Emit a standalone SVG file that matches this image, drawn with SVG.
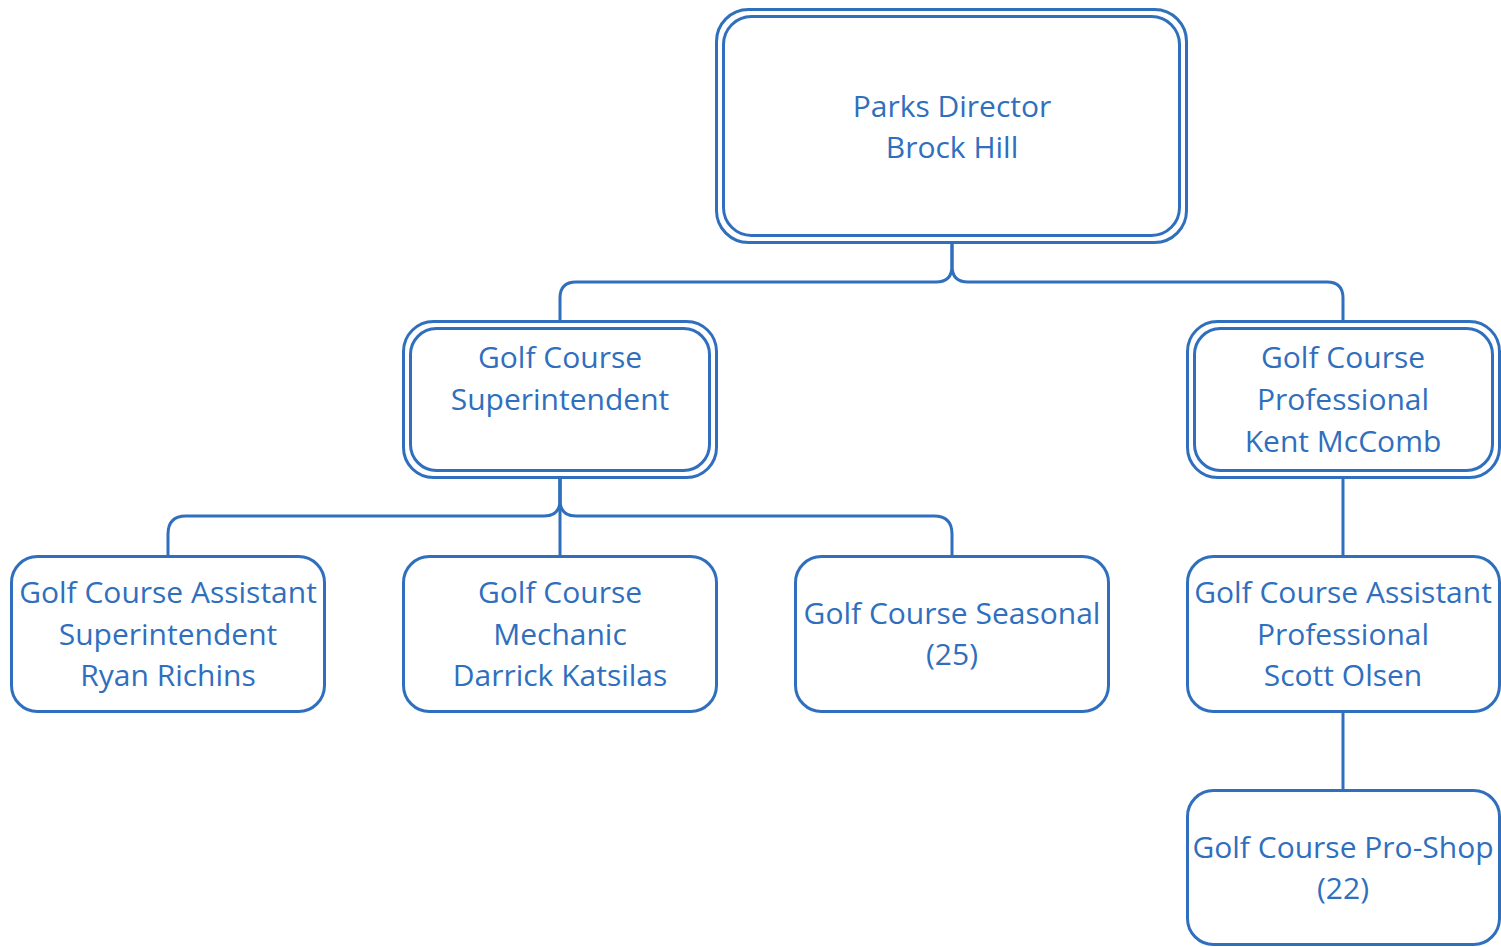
<svg xmlns="http://www.w3.org/2000/svg" width="1501" height="947" viewBox="0 0 1501 947">
  <style>
    .box { fill: #fff; stroke: #2F6FBD; stroke-width: 3; }
    .wire { fill: none; stroke: #2F6FBD; stroke-width: 3; }
    text { font-family: "Open Sans", "Noto Sans", "Liberation Sans", sans-serif; font-size: 30px; fill: #2F6FBD; text-anchor: middle; }
  </style>
  <rect width="1501" height="947" fill="#fff"/>

  <g id="connectors">
    <path class="wire" d="M952 243 V266 Q952 282 936 282 H576 Q560 282 560 298 V322"/>
    <path class="wire" d="M952 243 V266 Q952 282 968 282 H1327 Q1343 282 1343 298 V322"/>
    <path class="wire" d="M560 478 V500 Q560 516 544 516 H186 Q168 516 168 534 V556"/>
    <path class="wire" d="M560 478 V556"/>
    <path class="wire" d="M560 478 V500 Q560 516 576 516 H934 Q952 516 952 534 V556"/>
    <path class="wire" d="M1343 478 V556"/>
    <path class="wire" d="M1343 712 V790"/>
  </g>

  <g id="parks-director">
    <rect class="box" x="716.5" y="9.5" width="470" height="233" rx="32"/>
    <rect class="box" x="723.5" y="16.5" width="456" height="219" rx="28"/>
    <text x="952" y="117">Parks Director</text>
    <text x="952" y="158">Brock Hill</text>
  </g>

  <g id="superintendent">
    <rect class="box" x="403.5" y="321.5" width="313" height="156" rx="30"/>
    <rect class="box" x="410.5" y="328.5" width="299" height="142" rx="26"/>
    <text x="560" y="368">Golf Course</text>
    <text x="560" y="410">Superintendent</text>
  </g>

  <g id="professional">
    <rect class="box" x="1187.5" y="321.5" width="312" height="156" rx="30"/>
    <rect class="box" x="1194.5" y="328.5" width="298" height="142" rx="26"/>
    <text x="1343" y="368">Golf Course</text>
    <text x="1343" y="410">Professional</text>
    <text x="1343" y="452">Kent McComb</text>
  </g>

  <g id="assistant-superintendent">
    <rect class="box" x="11.5" y="556.5" width="313" height="155" rx="26"/>
    <text x="168" y="603">Golf Course Assistant</text>
    <text x="168" y="645">Superintendent</text>
    <text x="168" y="686">Ryan Richins</text>
  </g>

  <g id="mechanic">
    <rect class="box" x="403.5" y="556.5" width="313" height="155" rx="26"/>
    <text x="560" y="603">Golf Course</text>
    <text x="560" y="645">Mechanic</text>
    <text x="560" y="686">Darrick Katsilas</text>
  </g>

  <g id="seasonal">
    <rect class="box" x="795.5" y="556.5" width="313" height="155" rx="26"/>
    <text x="952" y="624">Golf Course Seasonal</text>
    <text x="952" y="665">(25)</text>
  </g>

  <g id="assistant-professional">
    <rect class="box" x="1187.5" y="556.5" width="312" height="155" rx="26"/>
    <text x="1343" y="603">Golf Course Assistant</text>
    <text x="1343" y="645">Professional</text>
    <text x="1343" y="686">Scott Olsen</text>
  </g>

  <g id="pro-shop">
    <rect class="box" x="1187.5" y="790.5" width="312" height="154" rx="26"/>
    <text x="1343" y="858">Golf Course Pro-Shop</text>
    <text x="1343" y="899">(22)</text>
  </g>
</svg>
